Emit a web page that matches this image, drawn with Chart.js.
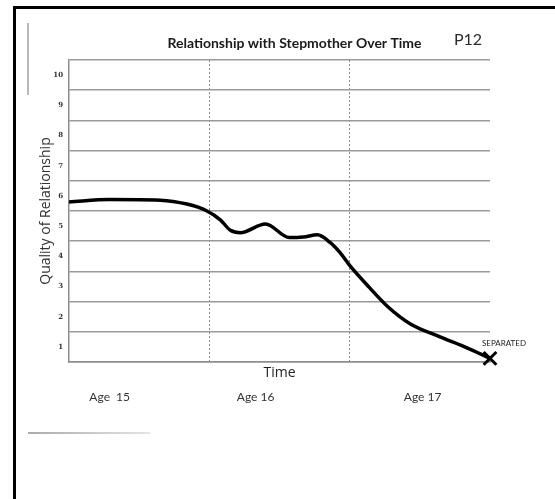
<!DOCTYPE html>
<html>
<head>
<meta charset="utf-8">
<script src="https://cdn.jsdelivr.net/npm/chart.js@4.4.1/dist/chart.umd.min.js"></script>
<style>
  html, body { margin: 0; padding: 0; background: #ffffff; }
  #wrap { position: relative; width: 555px; height: 499px; }
</style>
</head>
<body>
<div id="wrap"><canvas id="c"></canvas></div>
<script>
// ---- data ----
const chartTitle = 'Relationship with Stepmother Over Time';
const participantId = 'P12';
const yAxisTitle = 'Quality of Relationship';
const xAxisTitle = 'Time';
const endNote = 'SEPARATED';

const qualityTicks = [1, 2, 3, 4, 5, 6, 7, 8, 9, 10];
const ageLabels = ['Age  15', 'Age 16', 'Age 17'];
const agePositions = [0.29, 1.33, 2.52];     // years along the time axis
const yearBoundaries = [1, 2];               // dotted separators

const timeYears = [0, 0.29, 0.65, 0.84, 0.98, 1.08, 1.15, 1.22, 1.40, 1.57, 1.67, 1.77, 1.86, 1.93, 2.00, 2.14, 2.27, 2.43, 2.64, 2.84, 3.0];
const quality   = [5.8, 5.88, 5.86, 5.73, 5.51, 5.2, 4.86, 4.78, 5.07, 4.62, 4.64, 4.71, 4.46, 4.13, 3.7, 2.97, 2.34, 1.77, 1.34, 0.96, 0.62];

const endTime = [3.0];
const endQuality = [0.62];

// ---- build ----
const linePoints = timeYears.map((t, i) => ({ x: t, y: quality[i] }));
const endPoints = endTime.map((t, i) => ({ x: t, y: endQuality[i] }));

const decor = {
  id: 'decor',
  afterDraw(chart) {
    const ctx = chart.ctx;
    const area = chart.chartArea;
    ctx.save();
    // scan frame
    ctx.strokeStyle = '#000';
    ctx.lineWidth = 3;
    ctx.beginPath();
    ctx.moveTo(14.5, 499); ctx.lineTo(14.5, 7.5); ctx.lineTo(555, 7.5);
    ctx.stroke();
    ctx.strokeStyle = '#8a8a8a';
    ctx.lineWidth = 1.2;
    ctx.beginPath(); ctx.moveTo(28, 23); ctx.lineTo(28, 95); ctx.stroke();
    const g = ctx.createLinearGradient(28, 0, 150, 0);
    g.addColorStop(0, '#555'); g.addColorStop(1, '#ccc');
    ctx.strokeStyle = g;
    ctx.beginPath(); ctx.moveTo(28, 433); ctx.lineTo(150, 433); ctx.stroke();

    // title
    ctx.fillStyle = '#1a1a1a';
    ctx.font = 'bold 14px Lato';
    ctx.textAlign = 'center';
    ctx.textBaseline = 'middle';
    ctx.fillText(chartTitle, (area.left + area.right) / 2 + 15, area.top - 17);
    ctx.font = '16px Lato';
    ctx.fillStyle = '#2a2a2a';
    ctx.fillText(participantId, area.right - 22, area.top - 20);

    // end note
    const meta = chart.getDatasetMeta(1);
    if (meta && meta.data[0]) {
      const p = meta.data[0];
      ctx.font = '8px Lato';
      ctx.fillStyle = '#222';
      ctx.fillText(endNote, p.x + 14, p.y - 15);
    }
    ctx.restore();
  }
};

new Chart(document.getElementById('c'), {
  type: 'line',
  data: {
    datasets: [
      {
        data: linePoints,
        borderColor: '#000',
        borderWidth: 3.5,
        pointRadius: 0,
        fill: false,
        cubicInterpolationMode: 'monotone',
        xAxisID: 'x',
        yAxisID: 'y'
      },
      {
        data: endPoints,
        showLine: false,
        pointStyle: 'crossRot',
        pointRadius: 9,
        borderColor: '#000',
        borderWidth: 3,
        clip: false,
        xAxisID: 'x',
        yAxisID: 'y'
      }
    ]
  },
  plugins: [decor],
  options: {
    responsive: true,
    maintainAspectRatio: false,
    animation: false,
    layout: { padding: { left: 38, right: 65, top: 60, bottom: 88 } },
    plugins: {
      legend: { display: false },
      title: { display: false },
      tooltip: { enabled: false }
    },
    scales: {
      x: {
        type: 'linear',
        position: 'bottom',
        min: 0, max: 3,
        weight: 0,
        afterBuildTicks: (s) => { s.ticks = [0].concat(yearBoundaries, [3]).map(v => ({ value: v })); },
        ticks: { display: false },
        grid: {
          drawTicks: false,
          lineWidth: 1,
          color: (c) => (c.tick && yearBoundaries.includes(c.tick.value)) ? '#8a8a8a' : 'rgba(0,0,0,0)'
        },
        border: { display: true, color: '#8c8c8c', width: 1.5, dash: [2, 2] },
        title: {
          display: true, text: xAxisTitle, color: '#222',
          font: { family: 'Open Sans', size: 14 },
          padding: { top: 0, bottom: 0 }
        },
        afterFit: (s) => { s.height = 19; }
      },
      x2: {
        type: 'linear',
        position: 'bottom',
        min: 0, max: 3,
        weight: 1,
        afterBuildTicks: (s) => { s.ticks = agePositions.map(v => ({ value: v })); },
        ticks: {
          autoSkip: false, maxRotation: 0, padding: 1,
          color: '#333',
          font: { family: 'Lato', size: 12 },
          callback: (v, i) => ageLabels[i]
        },
        grid: { display: false },
        border: { display: false },
        afterFit: (s) => { s.height = 30; }
      },
      y: {
        type: 'linear',
        min: 0.5, max: 10.5,
        afterBuildTicks: (s) => { s.ticks = qualityTicks.map(v => ({ value: v })); },
        ticks: {
          padding: 6,
          color: '#333',
          font: { family: 'DejaVu Serif', size: 7, weight: 'bold' }
        },
        grid: { offset: true, drawTicks: false, color: '#9a9a9a', lineWidth: 1.5 },
        border: { display: true, color: '#8c8c8c', width: 1.5 },
        title: {
          display: true, text: yAxisTitle, color: '#333',
          font: { family: 'Open Sans', size: 14 },
          padding: { top: 0, bottom: 0 }
        },
        afterFit: (s) => { s.width = 31; }
      }
    }
  }
});
</script>
</body>
</html>
